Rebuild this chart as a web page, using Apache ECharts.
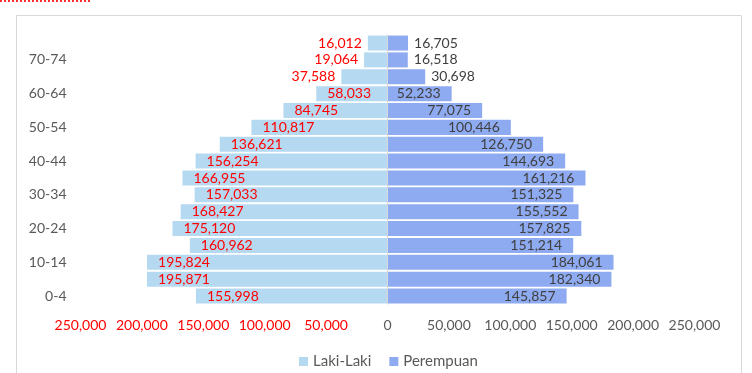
<!DOCTYPE html>
<html>
<head>
<meta charset="utf-8">
<script src="https://cdn.jsdelivr.net/npm/echarts@6/dist/echarts.min.js"></script>
<style>
html,body{margin:0;padding:0;background:#fff;}
#chart{width:752px;height:373px;}
</style>
</head>
<body>
<div id="chart"></div>
<script>
// Age groups, bottom to top
const categories = ['0-4','5-9','10-14','15-19','20-24','25-29','30-34','35-39','40-44','45-49','50-54','55-59','60-64','65-69','70-74','75+'];
const lakiLaki = [155998,195871,195824,160962,175120,168427,157033,166955,156254,136621,110817,84745,58033,37588,19064,16012];
const perempuan = [145857,182340,184061,151214,157825,155552,151325,161216,144693,126750,100446,77075,52233,30698,16518,16705];
const seriesNames = ['Laki-Laki','Perempuan'];
const axisMin = -250000, axisMax = 250000, axisStep = 50000;

const FONT = 'Lato';
const fmt = v => Math.abs(v).toString().replace(/\B(?=(\d{3})+(?!\d))/g, ',');
const FIT = 45000;

const menData = lakiLaki.map(v => v < FIT
  ? {value: -v, label: {position: 'left', distance: 6}}
  : {value: -v});
const womenData = perempuan.map(v => v < FIT
  ? {value: v, label: {position: 'right', distance: 6}}
  : {value: v});

const chart = echarts.init(document.getElementById('chart'));
chart.setOption({
  animation: false,
  textStyle: {fontFamily: FONT},
  graphic: [
    {type: 'rect', silent: true, z: -10,
     shape: {x: 16.5, y: 15.5, width: 725, height: 400},
     style: {fill: 'none', stroke: '#d9d9d9', lineWidth: 1}},
    {type: 'line', silent: true,
     shape: {x1: 0, y1: 1, x2: 91, y2: 1},
     style: {stroke: '#ff3030', lineWidth: 2, lineDash: [2, 2]}}
  ],
  legend: {
    data: seriesNames,
    left: 294, top: 349,
    icon: 'rect', itemWidth: 9, itemHeight: 9, itemGap: 18,
    textStyle: {fontFamily: FONT, fontSize: 15, color: '#595959'}
  },
  grid: {left: 80.5, right: 57.5, top: 34.6, bottom: 68.5, containLabel: false},
  xAxis: {
    type: 'value', min: axisMin, max: axisMax, interval: axisStep,
    axisLine: {show: false}, axisTick: {show: false}, splitLine: {show: false},
    axisLabel: {
      margin: 14, fontFamily: FONT, fontSize: 14,
      formatter: v => fmt(v),
      color: v => (v < 0 ? '#ff0000' : '#595959')
    }
  },
  yAxis: {
    type: 'category', data: categories,
    axisLine: {show: false}, axisTick: {show: false},
    axisLabel: {interval: 1, margin: 14, fontFamily: FONT, fontSize: 14, color: '#595959'}
  },
  series: [
    {
      name: seriesNames[0], type: 'bar', stack: 'pop', barWidth: '89%',
      data: menData,
      itemStyle: {color: '#b5d9f0'},
      label: {show: true, position: 'insideLeft', distance: 11,
              fontFamily: FONT, fontSize: 14, color: '#ff0000',
              formatter: p => fmt(p.value)},
      markLine: {
        silent: true, symbol: 'none', label: {show: false},
        lineStyle: {color: '#d9d9d9', type: 'solid', width: 1},
        data: [{xAxis: 0}]
      }
    },
    {
      name: seriesNames[1], type: 'bar', stack: 'pop', barWidth: '89%',
      data: womenData,
      itemStyle: {color: '#8eaaf0'},
      label: {show: true, position: 'insideRight', distance: 11,
              fontFamily: FONT, fontSize: 14, color: '#404040',
              formatter: p => fmt(p.value)}
    }
  ]
});
</script>
</body>
</html>
